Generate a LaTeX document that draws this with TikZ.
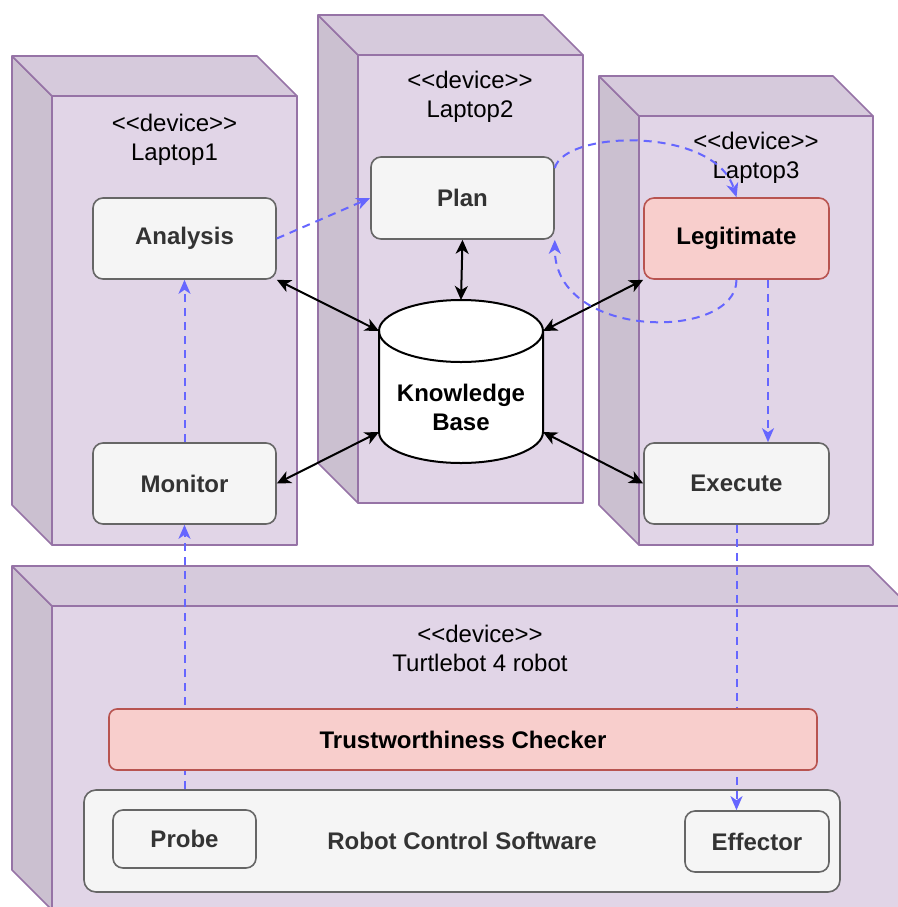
\documentclass[tikz,border=0pt]{standalone}
\usepackage{fontspec}
\setmainfont{Liberation Sans}
\usetikzlibrary{arrows.meta,calc}

\definecolor{devfill}{HTML}{E1D5E7}
\definecolor{devtop}{HTML}{D6CADC}
\definecolor{devside}{HTML}{CBC0D0}
\definecolor{devline}{HTML}{9673A6}
\definecolor{boxfill}{HTML}{F5F5F5}
\definecolor{boxline}{HTML}{666666}
\definecolor{boxtext}{HTML}{333333}
\definecolor{redfill}{HTML}{F8CECC}
\definecolor{redline}{HTML}{B85450}
\definecolor{flowblue}{HTML}{6666FF}

\newcommand{\stereo}{<\kern0pt<device>\kern0pt>}

\tikzset{
  devbox/.style={draw=devline, line width=0.8pt, line join=round},
  devlabel/.style={align=center},
  comp/.style={rectangle, rounded corners=5pt, draw=boxline, fill=boxfill, line width=0.8pt, text=boxtext, font=\bfseries, inner sep=0pt},
  redcomp/.style={comp, draw=redline, fill=redfill, text=black},
  kbarrow/.style={{Stealth[length=7pt,width=6.5pt,inset=2pt]}-{Stealth[length=7pt,width=6.5pt,inset=2pt]}, line width=1pt},
  flow/.style={-{Stealth[length=7pt,width=6pt,inset=2pt]}, draw=flowblue, line width=1pt, dash pattern=on 4pt off 3pt}
}

\begin{document}
\fontsize{12pt}{14.5pt}\selectfont
\begin{tikzpicture}[x=0.5pt, y=-0.5pt]
\useasboundingbox (0,0) rectangle (898,907);
\clip (0,0) rectangle (898,907);

% devices
\filldraw[devbox, fill=devside] (12,56) -- (52,96) -- (52,545) -- (12,505) -- cycle;
\filldraw[devbox, fill=devtop] (12,56) -- (257,56) -- (297,96) -- (52,96) -- cycle;
\filldraw[devbox, fill=devfill] (52,96) rectangle (297,545);

\filldraw[devbox, fill=devside] (318,15) -- (358,55) -- (358,503) -- (318,463) -- cycle;
\filldraw[devbox, fill=devtop] (318,15) -- (543,15) -- (583,55) -- (358,55) -- cycle;
\filldraw[devbox, fill=devfill] (358,55) rectangle (583,503);

\filldraw[devbox, fill=devside] (599,76) -- (639,116) -- (639,545) -- (599,505) -- cycle;
\filldraw[devbox, fill=devtop] (599,76) -- (833,76) -- (873,116) -- (639,116) -- cycle;
\filldraw[devbox, fill=devfill] (639,116) rectangle (873,545);

\filldraw[devbox, fill=devside] (12,566) -- (52,606) -- (52,910) -- (12,870) -- cycle;
\filldraw[devbox, fill=devtop] (12,566) -- (869,566) -- (909,606) -- (52,606) -- cycle;
\filldraw[devbox, fill=devfill] (52,606) rectangle (909,910);

\node[devlabel] (lap1) at (174.5,139.5) {\stereo\\Laptop1};
\node[devlabel] (lap2) at (470,97) {\stereo\\Laptop2};
\node[devlabel] (lap3) at (756,158) {\stereo\\Laptop3};
\node[devlabel] (robot) at (480,648) {\stereo\\Turtlebot 4 robot};

% MAPE-K components
\node[comp, minimum width=91.5pt, minimum height=40.5pt] (analysis) at (184.5,238.5) {Analysis};
\node[comp, minimum width=91.5pt, minimum height=41pt] (plan) at (462.5,198) {Plan};
\node[redcomp, minimum width=92.5pt, minimum height=40.5pt] (legit) at (736.5,238.5) {Legitimate};
\node[comp, minimum width=91.5pt, minimum height=40.5pt] (monitor) at (184.5,483.5) {Monitor};
\node[comp, minimum width=92.5pt, minimum height=40.5pt] (execute) at (736.5,483.5) {Execute};

% knowledge base
\filldraw[fill=white, draw=black, line width=1pt] (379,331) -- (379,432)
  arc[start angle=180, end angle=360, x radius=41pt, y radius=15.5pt] -- (543,331)
  arc[start angle=0, end angle=180, x radius=41pt, y radius=15.5pt] -- cycle;
\draw[line width=1pt] (379,331) arc[start angle=180, end angle=360, x radius=41pt, y radius=15.5pt];
\node[font=\bfseries, align=center] (kb) at (461,407) {Knowledge\\Base};
\coordinate (kbtop) at (461,300);
\coordinate (kbnw) at (379,331);
\coordinate (kbne) at (543,331);
\coordinate (kbsw) at (379,432);
\coordinate (kbse) at (543,432);

\draw[kbarrow] (analysis.south east) -- (kbnw);
\draw[kbarrow] (plan.south) -- (kbtop);
\draw[kbarrow] (legit.south west) -- (kbne);
\draw[kbarrow] (monitor.east) -- (kbsw);
\draw[kbarrow] (execute.west) -- (kbse);

% robot software
\node[comp, rounded corners=6pt, minimum width=378pt, minimum height=51pt] (rcs) at (462,841) {Robot Control Software};
\node[comp, minimum width=71.5pt, minimum height=29pt] (probe) at (184.5,839) {Probe};
\node[comp, minimum width=72pt, minimum height=30.5pt] (effector) at (757,841.5) {Effector};

% flows
\draw[flow] (analysis.east) -- (plan.west);
\draw[flow] (monitor.north) -- (analysis.south);
\draw[flow] (monitor.south |- rcs.north) -- (monitor.south);
\draw[flow] ([yshift=15pt]plan.east) .. controls +(10,-38) and +(-22,-71) .. (legit.north);
\draw[flow] (legit.south) .. controls +(0,61) and +(0,101) .. (plan.south east);
\draw[flow] ([xshift=15.75pt]legit.south) -- ([xshift=15.75pt]execute.north);
\draw[flow] (execute.south) -- (execute.south |- effector.north);

\node[redcomp, rounded corners=4pt, minimum width=354pt, minimum height=30.5pt] (checker) at (463,739.5) {Trustworthiness Checker};
\end{tikzpicture}
\end{document}
